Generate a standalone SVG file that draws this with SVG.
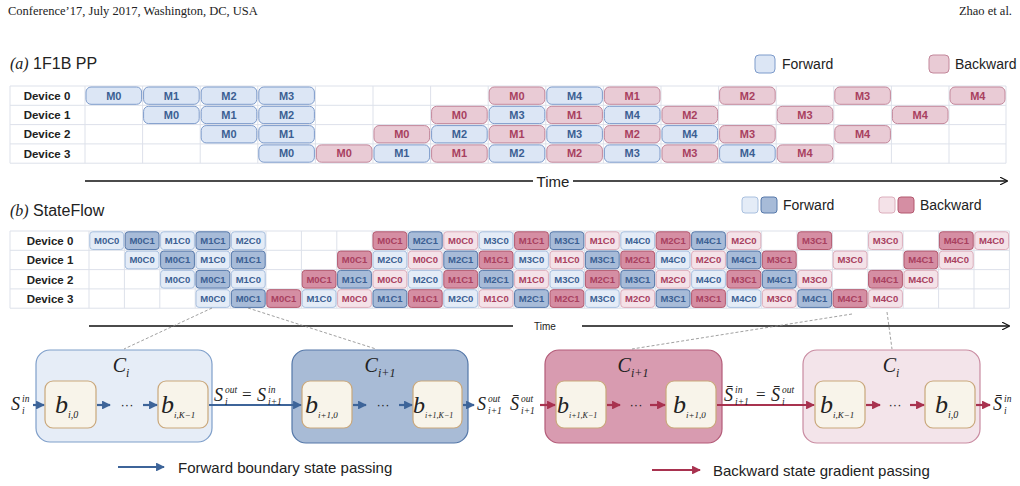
<svg xmlns="http://www.w3.org/2000/svg" width="1020" height="486" viewBox="0 0 1020 486">
<style>
text{font-family:"Liberation Sans",Arial,sans-serif}
.hd{font-family:"Liberation Serif","Times New Roman",serif;font-size:12.5px;fill:#222}
.dv{font-size:11.5px;font-weight:bold;fill:#222;text-anchor:middle}
.tf,.tb{font-size:11px;font-weight:bold;text-anchor:middle}
.tf{fill:#3b5f93}.tb{fill:#a8405f}
.sf,.sF,.sb,.sB{font-size:9.5px;font-weight:bold;text-anchor:middle}
.sf,.sF{fill:#3b5f93}.sb,.sB{fill:#a8405f}
.cf{fill:#dce6f5;stroke:#7d9bcb;stroke-width:1}
.cb{fill:#e9cbd5;stroke:#c3879b;stroke-width:1}
.rf{fill:#e4ecf7;stroke:#a9c0df}
.rF{fill:#a7bbd8;stroke:#5678aa}
.rb{fill:#f4e2e8;stroke:#dcaebc}
.rB{fill:#d58ea3;stroke:#b3596f}
.gl{stroke:#dde1ea;stroke-width:1;fill:none}
.m{font-family:"Liberation Serif","Times New Roman",serif;font-style:italic;fill:#222}
.sp{font-family:"Liberation Serif","Times New Roman",serif;font-style:italic;fill:#222;font-size:9.5px}
.eq{font-family:"Liberation Serif","Times New Roman",serif;fill:#222;font-size:17px}
.bx{fill:#f8f4ea;stroke:#c9a77b;stroke-width:1.2}
.ab{stroke:#3d6499;stroke-width:2.2;fill:none}
.ar{stroke:#a8324f;stroke-width:2.2;fill:none}
.ds{stroke:#888;stroke-width:0.8;stroke-dasharray:3,2;fill:none}
</style>
<defs>
<marker id="hb" viewBox="0 0 10 10" refX="9" refY="5" markerWidth="4" markerHeight="4" orient="auto"><path d="M0,0L10,5L0,10z" fill="#3d6499"/></marker>
<marker id="hr" viewBox="0 0 10 10" refX="9" refY="5" markerWidth="4" markerHeight="4" orient="auto"><path d="M0,0L10,5L0,10z" fill="#a8324f"/></marker>
<marker id="hk" viewBox="0 0 10 10" refX="9" refY="5" markerWidth="6" markerHeight="6" orient="auto"><path d="M0,0L10,5L0,10" fill="none" stroke="#111" stroke-width="1.5"/></marker>
</defs>
<rect width="1020" height="486" fill="#fff"/>
<text class="hd" x="8" y="15">Conference’17, July 2017, Washington, DC, USA</text>
<text class="hd" x="1012" y="15" text-anchor="end">Zhao et al.</text>

<g id="titleA"><text x="10" y="69" font-size="16" fill="#222"><tspan class="m" font-size="16">(a)</tspan> 1F1B PP</text></g>
<g id="legendA">
<rect x="755" y="55" width="20" height="18" rx="4" class="cf"/><text x="782" y="69" font-size="14" fill="#222">Forward</text>
<rect x="929" y="55" width="20" height="18" rx="4" class="cb"/><text x="955" y="69" font-size="14" fill="#222">Backward</text>
</g>

<g id="gridA">
<rect x="10" y="86" width="996" height="77.2" fill="#fff"/>
<path class="gl" d="M10,86H1006M10,105.3H1006M10,124.6H1006M10,143.9H1006M10,163.2H1006M10,86V163.2M85,86V163.2M142.6,86V163.2M200.2,86V163.2M257.8,86V163.2M315.4,86V163.2M373,86V163.2M430.6,86V163.2M488.2,86V163.2M545.8,86V163.2M603.4,86V163.2M661,86V163.2M718.6,86V163.2M776.2,86V163.2M833.8,86V163.2M891.4,86V163.2M949,86V163.2M1006,86V163.2"/>
<text class="dv" x="47" y="100">Device 0</text><text class="dv" x="47" y="119">Device 1</text><text class="dv" x="47" y="138">Device 2</text><text class="dv" x="47" y="158">Device 3</text>
<g id="a-row0">
<rect class="cf" x="86" y="87" width="55.6" height="17.3" rx="5"/><text class="tf" x="113.8" y="99.5">M0</text>
<rect class="cf" x="143.6" y="87" width="55.6" height="17.3" rx="5"/><text class="tf" x="171.4" y="99.5">M1</text>
<rect class="cf" x="201.2" y="87" width="55.6" height="17.3" rx="5"/><text class="tf" x="229" y="99.5">M2</text>
<rect class="cf" x="258.8" y="87" width="55.6" height="17.3" rx="5"/><text class="tf" x="286.6" y="99.5">M3</text>
<rect class="cb" x="489.2" y="87" width="55.6" height="17.3" rx="5"/><text class="tb" x="517" y="99.5">M0</text>
<rect class="cf" x="546.8" y="87" width="55.6" height="17.3" rx="5"/><text class="tf" x="574.6" y="99.5">M4</text>
<rect class="cb" x="604.4" y="87" width="55.6" height="17.3" rx="5"/><text class="tb" x="632.2" y="99.5">M1</text>
<rect class="cb" x="719.6" y="87" width="55.6" height="17.3" rx="5"/><text class="tb" x="747.4" y="99.5">M2</text>
<rect class="cb" x="834.8" y="87" width="55.6" height="17.3" rx="5"/><text class="tb" x="862.6" y="99.5">M3</text>
<rect class="cb" x="950" y="87" width="55" height="17.3" rx="5"/><text class="tb" x="977.8" y="99.5">M4</text>
</g>
<g id="a-row1">
<rect class="cf" x="143.6" y="106.3" width="55.6" height="17.3" rx="5"/><text class="tf" x="171.4" y="118.8">M0</text>
<rect class="cf" x="201.2" y="106.3" width="55.6" height="17.3" rx="5"/><text class="tf" x="229" y="118.8">M1</text>
<rect class="cf" x="258.8" y="106.3" width="55.6" height="17.3" rx="5"/><text class="tf" x="286.6" y="118.8">M2</text>
<rect class="cb" x="431.6" y="106.3" width="55.6" height="17.3" rx="5"/><text class="tb" x="459.4" y="118.8">M0</text>
<rect class="cf" x="489.2" y="106.3" width="55.6" height="17.3" rx="5"/><text class="tf" x="517" y="118.8">M3</text>
<rect class="cb" x="546.8" y="106.3" width="55.6" height="17.3" rx="5"/><text class="tb" x="574.6" y="118.8">M1</text>
<rect class="cf" x="604.4" y="106.3" width="55.6" height="17.3" rx="5"/><text class="tf" x="632.2" y="118.8">M4</text>
<rect class="cb" x="662" y="106.3" width="55.6" height="17.3" rx="5"/><text class="tb" x="689.8" y="118.8">M2</text>
<rect class="cb" x="777.2" y="106.3" width="55.6" height="17.3" rx="5"/><text class="tb" x="805" y="118.8">M3</text>
<rect class="cb" x="892.4" y="106.3" width="55.6" height="17.3" rx="5"/><text class="tb" x="920.2" y="118.8">M4</text>
</g>
<g id="a-row2">
<rect class="cf" x="201.2" y="125.6" width="55.6" height="17.3" rx="5"/><text class="tf" x="229" y="138.1">M0</text>
<rect class="cf" x="258.8" y="125.6" width="55.6" height="17.3" rx="5"/><text class="tf" x="286.6" y="138.1">M1</text>
<rect class="cb" x="374" y="125.6" width="55.6" height="17.3" rx="5"/><text class="tb" x="401.8" y="138.1">M0</text>
<rect class="cf" x="431.6" y="125.6" width="55.6" height="17.3" rx="5"/><text class="tf" x="459.4" y="138.1">M2</text>
<rect class="cb" x="489.2" y="125.6" width="55.6" height="17.3" rx="5"/><text class="tb" x="517" y="138.1">M1</text>
<rect class="cf" x="546.8" y="125.6" width="55.6" height="17.3" rx="5"/><text class="tf" x="574.6" y="138.1">M3</text>
<rect class="cb" x="604.4" y="125.6" width="55.6" height="17.3" rx="5"/><text class="tb" x="632.2" y="138.1">M2</text>
<rect class="cf" x="662" y="125.6" width="55.6" height="17.3" rx="5"/><text class="tf" x="689.8" y="138.1">M4</text>
<rect class="cb" x="719.6" y="125.6" width="55.6" height="17.3" rx="5"/><text class="tb" x="747.4" y="138.1">M3</text>
<rect class="cb" x="834.8" y="125.6" width="55.6" height="17.3" rx="5"/><text class="tb" x="862.6" y="138.1">M4</text>
</g>
<g id="a-row3">
<rect class="cf" x="258.8" y="144.9" width="55.6" height="17.3" rx="5"/><text class="tf" x="286.6" y="157.4">M0</text>
<rect class="cb" x="316.4" y="144.9" width="55.6" height="17.3" rx="5"/><text class="tb" x="344.2" y="157.4">M0</text>
<rect class="cf" x="374" y="144.9" width="55.6" height="17.3" rx="5"/><text class="tf" x="401.8" y="157.4">M1</text>
<rect class="cb" x="431.6" y="144.9" width="55.6" height="17.3" rx="5"/><text class="tb" x="459.4" y="157.4">M1</text>
<rect class="cf" x="489.2" y="144.9" width="55.6" height="17.3" rx="5"/><text class="tf" x="517" y="157.4">M2</text>
<rect class="cb" x="546.8" y="144.9" width="55.6" height="17.3" rx="5"/><text class="tb" x="574.6" y="157.4">M2</text>
<rect class="cf" x="604.4" y="144.9" width="55.6" height="17.3" rx="5"/><text class="tf" x="632.2" y="157.4">M3</text>
<rect class="cb" x="662" y="144.9" width="55.6" height="17.3" rx="5"/><text class="tb" x="689.8" y="157.4">M3</text>
<rect class="cf" x="719.6" y="144.9" width="55.6" height="17.3" rx="5"/><text class="tf" x="747.4" y="157.4">M4</text>
<rect class="cb" x="777.2" y="144.9" width="55.6" height="17.3" rx="5"/><text class="tb" x="805" y="157.4">M4</text>
</g>
</g>
<g id="timeA">
<path d="M85,181H533M573,181H1007" stroke="#111" stroke-width="1.3" fill="none" marker-end="url(#hk)"/>
<text x="553" y="187" font-size="15" fill="#222" text-anchor="middle">Time</text>
</g>

<g id="titleB"><text x="10" y="216" font-size="16" fill="#222"><tspan class="m" font-size="16">(b)</tspan> StateFlow</text></g>
<g id="legendB">
<rect x="742" y="197" width="16" height="16" rx="3" class="rf"/><rect x="761" y="197" width="16" height="16" rx="3" class="rF"/>
<text x="783" y="210" font-size="14" fill="#222">Forward</text>
<rect x="879" y="197" width="16" height="16" rx="3" class="rb"/><rect x="898" y="197" width="16" height="16" rx="3" class="rB"/>
<text x="920" y="210" font-size="14" fill="#222">Backward</text>
</g>

<g id="gridB">
<rect x="10" y="231" width="999.4" height="77.2" fill="#fff"/>
<path class="gl" d="M10,231H1009.4M10,250.3H1009.4M10,269.6H1009.4M10,288.9H1009.4M10,308.2H1009.4M10,231V308.2M89,231V308.2M124.4,231V308.2M159.8,231V308.2M195.2,231V308.2M230.6,231V308.2M266,231V308.2M301.4,231V308.2M336.8,231V308.2M372.2,231V308.2M407.6,231V308.2M443,231V308.2M478.4,231V308.2M513.8,231V308.2M549.2,231V308.2M584.6,231V308.2M620,231V308.2M655.4,231V308.2M690.8,231V308.2M726.2,231V308.2M761.6,231V308.2M797,231V308.2M832.4,231V308.2M867.8,231V308.2M903.2,231V308.2M938.6,231V308.2M974,231V308.2M1009.4,231V308.2"/>
<text class="dv" x="50" y="245">Device 0</text><text class="dv" x="50" y="264">Device 1</text><text class="dv" x="50" y="284">Device 2</text><text class="dv" x="50" y="303">Device 3</text>
<g id="b-row0">
<rect class="rf" x="89.8" y="231.8" width="33.8" height="17.7" rx="3"/><text class="sf" x="106.7" y="244">M0C0</text>
<rect class="rF" x="125.2" y="231.8" width="33.8" height="17.7" rx="3"/><text class="sF" x="142.1" y="244">M0C1</text>
<rect class="rf" x="160.6" y="231.8" width="33.8" height="17.7" rx="3"/><text class="sf" x="177.5" y="244">M1C0</text>
<rect class="rF" x="196" y="231.8" width="33.8" height="17.7" rx="3"/><text class="sF" x="212.9" y="244">M1C1</text>
<rect class="rf" x="231.4" y="231.8" width="33.8" height="17.7" rx="3"/><text class="sf" x="248.3" y="244">M2C0</text>
<rect class="rB" x="373" y="231.8" width="33.8" height="17.7" rx="3"/><text class="sB" x="389.9" y="244">M0C1</text>
<rect class="rF" x="408.4" y="231.8" width="33.8" height="17.7" rx="3"/><text class="sF" x="425.3" y="244">M2C1</text>
<rect class="rb" x="443.8" y="231.8" width="33.8" height="17.7" rx="3"/><text class="sb" x="460.7" y="244">M0C0</text>
<rect class="rf" x="479.2" y="231.8" width="33.8" height="17.7" rx="3"/><text class="sf" x="496.1" y="244">M3C0</text>
<rect class="rB" x="514.6" y="231.8" width="33.8" height="17.7" rx="3"/><text class="sB" x="531.5" y="244">M1C1</text>
<rect class="rF" x="550" y="231.8" width="33.8" height="17.7" rx="3"/><text class="sF" x="566.9" y="244">M3C1</text>
<rect class="rb" x="585.4" y="231.8" width="33.8" height="17.7" rx="3"/><text class="sb" x="602.3" y="244">M1C0</text>
<rect class="rf" x="620.8" y="231.8" width="33.8" height="17.7" rx="3"/><text class="sf" x="637.7" y="244">M4C0</text>
<rect class="rB" x="656.2" y="231.8" width="33.8" height="17.7" rx="3"/><text class="sB" x="673.1" y="244">M2C1</text>
<rect class="rF" x="691.6" y="231.8" width="33.8" height="17.7" rx="3"/><text class="sF" x="708.5" y="244">M4C1</text>
<rect class="rb" x="727" y="231.8" width="33.8" height="17.7" rx="3"/><text class="sb" x="743.9" y="244">M2C0</text>
<rect class="rB" x="797.8" y="231.8" width="33.8" height="17.7" rx="3"/><text class="sB" x="814.7" y="244">M3C1</text>
<rect class="rb" x="868.6" y="231.8" width="33.8" height="17.7" rx="3"/><text class="sb" x="885.5" y="244">M3C0</text>
<rect class="rB" x="939.4" y="231.8" width="33.8" height="17.7" rx="3"/><text class="sB" x="956.3" y="244">M4C1</text>
<rect class="rb" x="974.8" y="231.8" width="33.8" height="17.7" rx="3"/><text class="sb" x="991.7" y="244">M4C0</text>
</g>
<g id="b-row1">
<rect class="rf" x="125.2" y="251.1" width="33.8" height="17.7" rx="3"/><text class="sf" x="142.1" y="263.3">M0C0</text>
<rect class="rF" x="160.6" y="251.1" width="33.8" height="17.7" rx="3"/><text class="sF" x="177.5" y="263.3">M0C1</text>
<rect class="rf" x="196" y="251.1" width="33.8" height="17.7" rx="3"/><text class="sf" x="212.9" y="263.3">M1C0</text>
<rect class="rF" x="231.4" y="251.1" width="33.8" height="17.7" rx="3"/><text class="sF" x="248.3" y="263.3">M1C1</text>
<rect class="rB" x="337.6" y="251.1" width="33.8" height="17.7" rx="3"/><text class="sB" x="354.5" y="263.3">M0C1</text>
<rect class="rf" x="373" y="251.1" width="33.8" height="17.7" rx="3"/><text class="sf" x="389.9" y="263.3">M2C0</text>
<rect class="rb" x="408.4" y="251.1" width="33.8" height="17.7" rx="3"/><text class="sb" x="425.3" y="263.3">M0C0</text>
<rect class="rF" x="443.8" y="251.1" width="33.8" height="17.7" rx="3"/><text class="sF" x="460.7" y="263.3">M2C1</text>
<rect class="rB" x="479.2" y="251.1" width="33.8" height="17.7" rx="3"/><text class="sB" x="496.1" y="263.3">M1C1</text>
<rect class="rf" x="514.6" y="251.1" width="33.8" height="17.7" rx="3"/><text class="sf" x="531.5" y="263.3">M3C0</text>
<rect class="rb" x="550" y="251.1" width="33.8" height="17.7" rx="3"/><text class="sb" x="566.9" y="263.3">M1C0</text>
<rect class="rF" x="585.4" y="251.1" width="33.8" height="17.7" rx="3"/><text class="sF" x="602.3" y="263.3">M3C1</text>
<rect class="rB" x="620.8" y="251.1" width="33.8" height="17.7" rx="3"/><text class="sB" x="637.7" y="263.3">M2C1</text>
<rect class="rf" x="656.2" y="251.1" width="33.8" height="17.7" rx="3"/><text class="sf" x="673.1" y="263.3">M4C0</text>
<rect class="rb" x="691.6" y="251.1" width="33.8" height="17.7" rx="3"/><text class="sb" x="708.5" y="263.3">M2C0</text>
<rect class="rF" x="727" y="251.1" width="33.8" height="17.7" rx="3"/><text class="sF" x="743.9" y="263.3">M4C1</text>
<rect class="rB" x="762.4" y="251.1" width="33.8" height="17.7" rx="3"/><text class="sB" x="779.3" y="263.3">M3C1</text>
<rect class="rb" x="833.2" y="251.1" width="33.8" height="17.7" rx="3"/><text class="sb" x="850.1" y="263.3">M3C0</text>
<rect class="rB" x="904" y="251.1" width="33.8" height="17.7" rx="3"/><text class="sB" x="920.9" y="263.3">M4C1</text>
<rect class="rb" x="939.4" y="251.1" width="33.8" height="17.7" rx="3"/><text class="sb" x="956.3" y="263.3">M4C0</text>
</g>
<g id="b-row2">
<rect class="rf" x="160.6" y="270.4" width="33.8" height="17.7" rx="3"/><text class="sf" x="177.5" y="282.6">M0C0</text>
<rect class="rF" x="196" y="270.4" width="33.8" height="17.7" rx="3"/><text class="sF" x="212.9" y="282.6">M0C1</text>
<rect class="rf" x="231.4" y="270.4" width="33.8" height="17.7" rx="3"/><text class="sf" x="248.3" y="282.6">M1C0</text>
<rect class="rB" x="302.2" y="270.4" width="33.8" height="17.7" rx="3"/><text class="sB" x="319.1" y="282.6">M0C1</text>
<rect class="rF" x="337.6" y="270.4" width="33.8" height="17.7" rx="3"/><text class="sF" x="354.5" y="282.6">M1C1</text>
<rect class="rb" x="373" y="270.4" width="33.8" height="17.7" rx="3"/><text class="sb" x="389.9" y="282.6">M0C0</text>
<rect class="rf" x="408.4" y="270.4" width="33.8" height="17.7" rx="3"/><text class="sf" x="425.3" y="282.6">M2C0</text>
<rect class="rB" x="443.8" y="270.4" width="33.8" height="17.7" rx="3"/><text class="sB" x="460.7" y="282.6">M1C1</text>
<rect class="rF" x="479.2" y="270.4" width="33.8" height="17.7" rx="3"/><text class="sF" x="496.1" y="282.6">M2C1</text>
<rect class="rb" x="514.6" y="270.4" width="33.8" height="17.7" rx="3"/><text class="sb" x="531.5" y="282.6">M1C0</text>
<rect class="rf" x="550" y="270.4" width="33.8" height="17.7" rx="3"/><text class="sf" x="566.9" y="282.6">M3C0</text>
<rect class="rB" x="585.4" y="270.4" width="33.8" height="17.7" rx="3"/><text class="sB" x="602.3" y="282.6">M2C1</text>
<rect class="rF" x="620.8" y="270.4" width="33.8" height="17.7" rx="3"/><text class="sF" x="637.7" y="282.6">M3C1</text>
<rect class="rb" x="656.2" y="270.4" width="33.8" height="17.7" rx="3"/><text class="sb" x="673.1" y="282.6">M2C0</text>
<rect class="rf" x="691.6" y="270.4" width="33.8" height="17.7" rx="3"/><text class="sf" x="708.5" y="282.6">M4C0</text>
<rect class="rB" x="727" y="270.4" width="33.8" height="17.7" rx="3"/><text class="sB" x="743.9" y="282.6">M3C1</text>
<rect class="rF" x="762.4" y="270.4" width="33.8" height="17.7" rx="3"/><text class="sF" x="779.3" y="282.6">M4C1</text>
<rect class="rb" x="797.8" y="270.4" width="33.8" height="17.7" rx="3"/><text class="sb" x="814.7" y="282.6">M3C0</text>
<rect class="rB" x="868.6" y="270.4" width="33.8" height="17.7" rx="3"/><text class="sB" x="885.5" y="282.6">M4C1</text>
<rect class="rb" x="904" y="270.4" width="33.8" height="17.7" rx="3"/><text class="sb" x="920.9" y="282.6">M4C0</text>
</g>
<g id="b-row3">
<rect class="rf" x="196" y="289.7" width="33.8" height="17.7" rx="3"/><text class="sf" x="212.9" y="301.9">M0C0</text>
<rect class="rF" x="231.4" y="289.7" width="33.8" height="17.7" rx="3"/><text class="sF" x="248.3" y="301.9">M0C1</text>
<rect class="rB" x="266.8" y="289.7" width="33.8" height="17.7" rx="3"/><text class="sB" x="283.7" y="301.9">M0C1</text>
<rect class="rf" x="302.2" y="289.7" width="33.8" height="17.7" rx="3"/><text class="sf" x="319.1" y="301.9">M1C0</text>
<rect class="rb" x="337.6" y="289.7" width="33.8" height="17.7" rx="3"/><text class="sb" x="354.5" y="301.9">M0C0</text>
<rect class="rF" x="373" y="289.7" width="33.8" height="17.7" rx="3"/><text class="sF" x="389.9" y="301.9">M1C1</text>
<rect class="rB" x="408.4" y="289.7" width="33.8" height="17.7" rx="3"/><text class="sB" x="425.3" y="301.9">M1C1</text>
<rect class="rf" x="443.8" y="289.7" width="33.8" height="17.7" rx="3"/><text class="sf" x="460.7" y="301.9">M2C0</text>
<rect class="rb" x="479.2" y="289.7" width="33.8" height="17.7" rx="3"/><text class="sb" x="496.1" y="301.9">M1C0</text>
<rect class="rF" x="514.6" y="289.7" width="33.8" height="17.7" rx="3"/><text class="sF" x="531.5" y="301.9">M2C1</text>
<rect class="rB" x="550" y="289.7" width="33.8" height="17.7" rx="3"/><text class="sB" x="566.9" y="301.9">M2C1</text>
<rect class="rf" x="585.4" y="289.7" width="33.8" height="17.7" rx="3"/><text class="sf" x="602.3" y="301.9">M3C0</text>
<rect class="rb" x="620.8" y="289.7" width="33.8" height="17.7" rx="3"/><text class="sb" x="637.7" y="301.9">M2C0</text>
<rect class="rF" x="656.2" y="289.7" width="33.8" height="17.7" rx="3"/><text class="sF" x="673.1" y="301.9">M3C1</text>
<rect class="rB" x="691.6" y="289.7" width="33.8" height="17.7" rx="3"/><text class="sB" x="708.5" y="301.9">M3C1</text>
<rect class="rf" x="727" y="289.7" width="33.8" height="17.7" rx="3"/><text class="sf" x="743.9" y="301.9">M4C0</text>
<rect class="rb" x="762.4" y="289.7" width="33.8" height="17.7" rx="3"/><text class="sb" x="779.3" y="301.9">M3C0</text>
<rect class="rF" x="797.8" y="289.7" width="33.8" height="17.7" rx="3"/><text class="sF" x="814.7" y="301.9">M4C1</text>
<rect class="rB" x="833.2" y="289.7" width="33.8" height="17.7" rx="3"/><text class="sB" x="850.1" y="301.9">M4C1</text>
<rect class="rb" x="868.6" y="289.7" width="33.8" height="17.7" rx="3"/><text class="sb" x="885.5" y="301.9">M4C0</text>
</g>
</g>
<g id="timeB">
<path d="M89,326H513M582,326H1009" stroke="#111" stroke-width="1.3" fill="none" marker-end="url(#hk)"/>
<text x="545" y="330" font-size="10" fill="#222" text-anchor="middle">Time</text>
</g>

<g id="blockCi">
<rect x="36" y="350" width="176" height="92" rx="14" fill="#e6edf7" stroke="#7f9fca" stroke-width="1.2"/>
<text class="m" x="121" y="372" font-size="20" text-anchor="middle">C<tspan font-size="12" dy="5">i</tspan></text>
<rect class="bx" x="45" y="381" width="51" height="47" rx="8"/>
<text class="m" x="55" y="413" font-size="26">b<tspan font-size="10" dy="5">i,0</tspan></text>
<text x="127" y="409" font-size="13" fill="#222" text-anchor="middle">···</text>
<rect class="bx" x="158" y="381" width="50" height="47" rx="8"/>
<text class="m" x="161" y="413" font-size="26">b<tspan font-size="9" dy="5">i,K−1</tspan></text>
</g>
<g id="blockCi1">
<rect x="292" y="350" width="176" height="93" rx="14" fill="#a8bbd6" stroke="#5477a8" stroke-width="1.2"/>
<text class="m" x="380" y="372" font-size="20" text-anchor="middle">C<tspan font-size="12" dy="5">i+1</tspan></text>
<rect class="bx" x="302" y="381" width="50" height="47" rx="8"/>
<text class="m" x="305" y="413" font-size="26">b<tspan font-size="9" dy="5">i+1,0</tspan></text>
<text x="383" y="409" font-size="13" fill="#222" text-anchor="middle">···</text>
<rect class="bx" x="413" y="381" width="49" height="47" rx="8"/>
<text class="m" x="413" y="413" font-size="24">b<tspan font-size="8" dy="5">i+1,K−1</tspan></text>
</g>
<g id="blockBi1">
<rect x="545" y="350" width="177" height="93" rx="14" fill="#d89bb0" stroke="#b35b78" stroke-width="1.2"/>
<text class="m" x="633" y="372" font-size="20" text-anchor="middle">C<tspan font-size="12" dy="5">i+1</tspan></text>
<rect class="bx" x="556" y="381" width="50" height="47" rx="8"/>
<text class="m" x="557" y="413" font-size="24">b<tspan font-size="8" dy="5">i+1,K−1</tspan></text>
<text x="636" y="409" font-size="13" fill="#222" text-anchor="middle">···</text>
<rect class="bx" x="666" y="381" width="50" height="47" rx="8"/>
<text class="m" x="673" y="413" font-size="26">b<tspan font-size="9" dy="5">i+1,0</tspan></text>
</g>
<g id="blockBi">
<rect x="803" y="350" width="177" height="93" rx="14" fill="#f3e4ea" stroke="#c98ba1" stroke-width="1.2"/>
<text class="m" x="891" y="372" font-size="20" text-anchor="middle">C<tspan font-size="12" dy="5">i</tspan></text>
<rect class="bx" x="815" y="381" width="50" height="47" rx="8"/>
<text class="m" x="820" y="413" font-size="26">b<tspan font-size="9" dy="5">i,K−1</tspan></text>
<text x="895" y="409" font-size="13" fill="#222" text-anchor="middle">···</text>
<rect class="bx" x="925" y="381" width="50" height="47" rx="8"/>
<text class="m" x="935" y="413" font-size="26">b<tspan font-size="10" dy="5">i,0</tspan></text>
</g>

<g id="connectors">
<path class="ds" d="M212,308L124,349M248,308L376,349M852,314L632,349M887,312L892,349"/>
<path class="ab" d="M33,405H44" marker-end="url(#hb)"/>
<path class="ab" d="M97,405H110" marker-end="url(#hb)"/>
<path class="ab" d="M143,405H157" marker-end="url(#hb)"/>
<path class="ab" d="M209,405H301" marker-end="url(#hb)"/>
<path class="ab" d="M353,405H366" marker-end="url(#hb)"/>
<path class="ab" d="M399,405H412" marker-end="url(#hb)"/>
<path class="ab" d="M463,405H474" marker-end="url(#hb)"/>
<path class="ar" d="M540,405H555" marker-end="url(#hr)"/>
<path class="ar" d="M607,405H620" marker-end="url(#hr)"/>
<path class="ar" d="M650,405H665" marker-end="url(#hr)"/>
<path class="ar" d="M717,405H814" marker-end="url(#hr)"/>
<path class="ar" d="M866,405H880" marker-end="url(#hr)"/>
<path class="ar" d="M910,405H924" marker-end="url(#hr)"/>
<path class="ar" d="M976,405H990" marker-end="url(#hr)"/>
<path class="ab" d="M118,467H164" marker-end="url(#hb)"/>
<path class="ar" d="M652,470H700" marker-end="url(#hr)"/>
</g>

<g id="labelsFwd">
<text class="m" x="11" y="410" font-size="18">S</text><text class="sp" x="22" y="402">in</text><text class="sp" x="22" y="414">i</text>
<text class="m" x="214" y="401" font-size="18">S</text><text class="sp" x="225" y="393">out</text><text class="sp" x="225" y="405">i</text>
<text class="eq" x="242" y="400">=</text>
<text class="m" x="257" y="401" font-size="18">S</text><text class="sp" x="268" y="393">in</text><text class="sp" x="268" y="405">i+1</text>
<text class="m" x="477" y="410" font-size="18">S</text><text class="sp" x="488" y="402">out</text><text class="sp" x="488" y="414">i+1</text>
</g>
<g id="labelsBwd">
<text class="m" x="510" y="410" font-size="18">S̄</text><text class="sp" x="521" y="402">out</text><text class="sp" x="521" y="414">i+1</text>
<text class="m" x="724" y="401" font-size="18">S̄</text><text class="sp" x="735" y="393">in</text><text class="sp" x="735" y="405">i+1</text>
<text class="eq" x="756" y="400">=</text>
<text class="m" x="771" y="401" font-size="18">S̄</text><text class="sp" x="782" y="393">out</text><text class="sp" x="782" y="405">i</text>
<text class="m" x="993" y="410" font-size="18">S̄</text><text class="sp" x="1004" y="402">in</text><text class="sp" x="1004" y="414">i</text>
</g>

<g id="legendBottom">
<text x="178" y="473" font-size="15" fill="#222">Forward boundary state passing</text>
<text x="713" y="476" font-size="15" fill="#222">Backward state gradient passing</text>
</g>
</svg>
